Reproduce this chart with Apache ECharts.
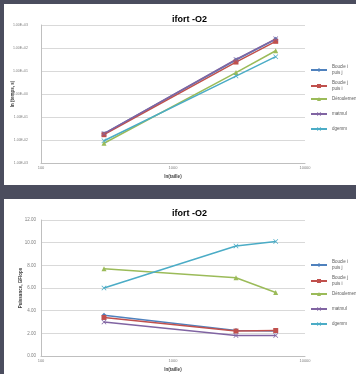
<!DOCTYPE html>
<html lang="fr">
<head>
<meta charset="UTF-8">
<title>ifort -O2</title>
<script src="https://cdn.jsdelivr.net/npm/echarts@6/dist/echarts.min.js"></script>
<style>
  html, body { margin:0; padding:0; }
  body { width:356px; height:374px; background:#4b4d5e; position:relative; overflow:hidden; }
  .panel { position:absolute; background:#ffffff; }
  #top-chart { left:4px; top:4px; width:352px; height:181px; }
  #bottom-chart { left:4px; top:199px; width:352px; height:175px; }
</style>
</head>
<body>
<div class="panel" id="top-chart"></div>
<div class="panel" id="bottom-chart"></div>
<script>
// tailles des matrices
var tailles = [300, 3000, 6000];
var seriesNames = ['Boucle i\npuis j', 'Boucle j\npuis i', 'Déroulement', 'matmul', 'dgemm'];
// temps (s)
var tempsBoucleIJ = [0.0187, 30, 240];
var tempsBoucleJI = [0.017, 24.5, 195];
var tempsDeroul = [0.0072, 8.5, 76];
var tempsMatmul = [0.019, 32, 250];
var tempsDgemm = [0.0093, 6.0, 42];
// puissance (GFlops)
var gfBoucleIJ = [3.6, 2.25, 2.2];
var gfBoucleJI = [3.4, 2.2, 2.25];
var gfDeroul = [7.7, 6.9, 5.6];
var gfMatmul = [3.0, 1.8, 1.8];
var gfDgemm = [6.0, 9.7, 10.1];

var colors = ['#4f81bd', '#c0504d', '#9bbb59', '#8064a2', '#4bacc6'];
var xMark = 'path://M0,1L1,0L5,4L9,0L10,1L6,5L10,9L9,10L5,6L1,10L0,9L4,5Z';
var symbols = ['diamond', 'rect', 'triangle', xMark, xMark];
// centre vertical de chaque entrée de légende (dans le panneau)
var legendY = [66, 82, 95, 110, 125];

function pairs(ys){
  var out = [];
  for(var i=0;i<tailles.length;i++){ out.push([tailles[i], ys[i]]); }
  return out;
}

function makeSeries(list){
  var s = [];
  for(var i=0;i<list.length;i++){
    s.push({
      name: seriesNames[i],
      type: 'line',
      data: pairs(list[i]),
      symbol: symbols[i],
      symbolSize: 5,
      color: colors[i],
      lineStyle: { width: 1.5 }
    });
  }
  return s;
}

function makeLegends(){
  var l = [];
  for(var i=0;i<seriesNames.length;i++){
    var h = seriesNames[i].indexOf('\n') >= 0 ? 12 : 6;
    l.push({
      orient: 'vertical', left: 306, top: legendY[i] - h/2,
      itemWidth: 16, itemHeight: 5, padding: 0,
      data: [seriesNames[i]],
      textStyle: { fontSize: 4.5, color: '#595959', fontFamily: 'Liberation Sans', lineHeight: 6 }
    });
  }
  return l;
}

var axisNameStyle = { fontSize: 4.5, fontWeight: 'bold', color: '#404040', fontFamily: 'Liberation Sans' };

function baseOption(yAxis, series, gridH, titleTop, xNameGap){
  return {
    animation: false,
    title: {
      text: 'ifort -O2', left: 163, top: titleTop,
      textStyle: { fontSize: 9, fontWeight: 'bold', color: '#000', fontFamily: 'Liberation Sans' }
    },
    legend: makeLegends(),
    grid: { left: 37, top: 21, width: 264, height: gridH, containLabel: false, outerBoundsMode: 'none' },
    xAxis: {
      type: 'log', logBase: 10, min: 100, max: 10000,
      name: 'ln(taille)', nameLocation: 'middle', nameGap: xNameGap, nameMoveOverlap: false,
      nameTextStyle: axisNameStyle,
      axisLine: { lineStyle: { color: '#bfbfbf' } },
      axisTick: { show: false },
      splitLine: { show: false },
      axisLabel: { margin: 3, fontSize: 4, color: '#7f7f7f', fontFamily: 'Liberation Sans',
        formatter: function(v){ return String(Math.round(v)); } }
    },
    yAxis: yAxis,
    series: series
  };
}

var topChart = echarts.init(document.getElementById('top-chart'));
topChart.setOption(baseOption({
  type: 'log', logBase: 10, min: 0.001, max: 1000,
  name: 'ln (temps, s)', nameLocation: 'middle', nameGap: 26, nameMoveOverlap: false,
  nameTextStyle: axisNameStyle,
  axisLine: { show: true, lineStyle: { color: '#bfbfbf' } },
  axisTick: { show: false },
  splitLine: { lineStyle: { color: '#d9d9d9' } },
  axisLabel: { margin: 13, fontSize: 3.5, color: '#7f7f7f', fontFamily: 'Liberation Sans',
    formatter: function(v){
      var e = Math.round(Math.log10(v));
      return '1.00E' + (e < 0 ? '-' : '+') + (Math.abs(e) < 10 ? '0' : '') + Math.abs(e);
    } }
}, makeSeries([tempsBoucleIJ, tempsBoucleJI, tempsDeroul, tempsMatmul, tempsDgemm]), 138, 6, 11));

var bottomChart = echarts.init(document.getElementById('bottom-chart'));
bottomChart.setOption(baseOption({
  type: 'value', min: 0, max: 12, interval: 2,
  name: 'Puissance, GFlops', nameLocation: 'middle', nameGap: 18, nameMoveOverlap: false,
  nameTextStyle: axisNameStyle,
  axisLine: { show: true, lineStyle: { color: '#bfbfbf' } },
  axisTick: { show: false },
  splitLine: { lineStyle: { color: '#d9d9d9' } },
  axisLabel: { margin: 5, fontSize: 4.5, color: '#7f7f7f', fontFamily: 'Liberation Sans',
    formatter: function(v){ return v.toFixed(2); } }
}, makeSeries([gfBoucleIJ, gfBoucleJI, gfDeroul, gfMatmul, gfDgemm]), 136, 5, 11));
</script>
</body>
</html>
